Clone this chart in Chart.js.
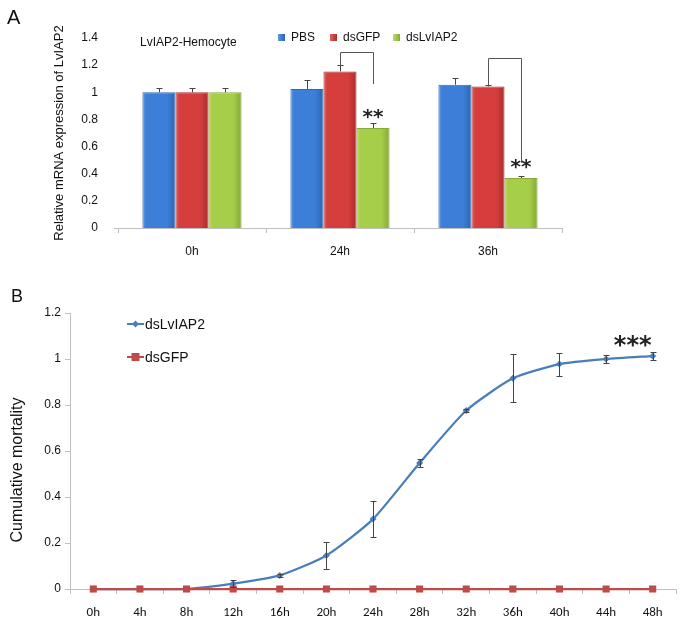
<!DOCTYPE html>
<html><head><meta charset="utf-8">
<script src="https://cdn.jsdelivr.net/npm/chart.js@4.4.1/dist/chart.umd.min.js"></script>
<style>
html,body{margin:0;padding:0;background:#fff;}
#wrap{position:relative;width:683px;height:620px;overflow:hidden;background:#fff;}
#ca{position:absolute;left:0;top:0;}
#cb{position:absolute;left:0;top:270px;}
</style></head><body>
<div id="wrap"><canvas id="ca" width="683" height="262"></canvas><canvas id="cb" width="683" height="350"></canvas></div>
<script>
// ---------- Panel A data ----------
const groupsA = ['0h', '24h', '36h'];
const pbsA = [1.00, 1.024, 1.056];
const pbsErrA = [0.032, 0.069, 0.05];
const gfpA = [1.00, 1.154, 1.043];
const gfpErrA = [0.032, 0.044, 0.01];
const iapA = [1.00, 0.737, 0.368];
const iapErrA = [0.032, 0.037, 0.017];
const yTicksA = ['0', '0.2', '0.4', '0.6', '0.8', '1', '1.2', '1.4'];
const sigA = ['', '**', '**'];
const bracketTopA = [null, 1.30, 1.253];
const bracketEndA = [null, 1.061, 0.48];
const seriesNamesA = ['PBS', 'dsGFP', 'dsLvIAP2'];

// ---------- Panel B data ----------
const hoursB = ['0h', '4h', '8h', '12h', '16h', '20h', '24h', '28h', '32h', '36h', '40h', '44h', '48h'];
const iapB = [0, 0, 0, 0.023, 0.059, 0.146, 0.304, 0.548, 0.776, 0.916, 0.978, 1.0, 1.013];
const iapErrB = [0, 0, 0, 0.016, 0.006, 0.06, 0.078, 0.018, 0.008, 0.104, 0.05, 0.016, 0.017];
const gfpB = [0, 0, 0, 0, 0, 0, 0, 0, 0, 0, 0, 0, 0];
const yTicksB = ['0', '0.2', '0.4', '0.6', '0.8', '1', '1.2'];
const seriesNamesB = ['dsLvIAP2', 'dsGFP'];
const sigB = '***';

const AR = "'Liberation Sans', Arial, sans-serif";
const CAL = "Carlito, Lato, 'Liberation Sans', sans-serif";

function barGrad(base, light, dark) {
  return (c) => {
    const el = c.element;
    if (!el || !isFinite(el.x) || !el.width) return base;
    const x0 = el.x - el.width / 2, x1 = el.x + el.width / 2;
    const g = c.chart.ctx.createLinearGradient(x0, 0, x1, 0);
    g.addColorStop(0, light); g.addColorStop(0.12, base);
    g.addColorStop(0.75, base); g.addColorStop(1, dark);
    return g;
  };
}
const colA = [
  { base: '#3b7fd9', light: '#5f97e2', dark: '#2c63ad', border: '#2f67b5' },
  { base: '#d63d3d', light: '#e06262', dark: '#a92e2e', border: '#a83030' },
  { base: '#a6ce48', light: '#bcdc6c', dark: '#85a935', border: '#87aa38' }
];

const pluginA = {
  id: 'extrasA',
  afterDatasetsDraw(chart) {
    const ctx = chart.ctx, ys = chart.scales.y;
    const errs = [pbsErrA, gfpErrA, iapErrA];
    const vals = [pbsA, gfpA, iapA];
    ctx.save();
    ctx.strokeStyle = '#444'; ctx.lineWidth = 1;
    vals.forEach((arr, di) => {
      const meta = chart.getDatasetMeta(di);
      meta.data.forEach((el, i) => {
        const x = Math.round(el.x) + 0.5;
        const y0 = ys.getPixelForValue(arr[i]);
        const y1 = Math.round(ys.getPixelForValue(arr[i] + errs[di][i])) + 0.5;
        ctx.beginPath();
        ctx.moveTo(x, y0); ctx.lineTo(x, y1);
        ctx.moveTo(x - 3, y1); ctx.lineTo(x + 3, y1);
        ctx.stroke();
      });
    });
    // brackets
    const m1 = chart.getDatasetMeta(1), m2 = chart.getDatasetMeta(2);
    ctx.strokeStyle = '#555';
    for (let i = 0; i < groupsA.length; i++) {
      if (bracketTopA[i] == null) continue;
      const xl = Math.round(m1.data[i].x) + 0.5, xr = Math.round(m2.data[i].x) + 0.5;
      const yl = ys.getPixelForValue(gfpA[i] + gfpErrA[i]);
      const yt = Math.round(ys.getPixelForValue(bracketTopA[i])) + 0.5;
      const yr = ys.getPixelForValue(bracketEndA[i]);
      ctx.beginPath();
      ctx.moveTo(xl, yl); ctx.lineTo(xl, yt); ctx.lineTo(xr, yt); ctx.lineTo(xr, yr);
      ctx.stroke();
    }
    // stars
    ctx.fillStyle = '#222';
    ctx.font = "bold 20px 'DejaVu Sans', sans-serif";
    ctx.textAlign = 'center'; ctx.textBaseline = 'middle';
    for (let i = 0; i < groupsA.length; i++) {
      if (!sigA[i]) continue;
      const x = m2.data[i].x;
      const y = ys.getPixelForValue(iapA[i] + 0.105);
      ctx.fillText(sigA[i], x, y + 4);
    }
    // title text inside plot
    ctx.fillStyle = '#111';
    ctx.font = '12px ' + AR;
    ctx.textAlign = 'left';
    ctx.fillText('LvIAP2-Hemocyte', 140, 43);
    // legend
    const lx = [278, 330, 393];
    chart.data.datasets.forEach((ds, di) => {
      const c = colA[di];
      const g = ctx.createLinearGradient(lx[di], 0, lx[di] + 7, 0);
      g.addColorStop(0, c.light); g.addColorStop(1, c.dark);
      ctx.fillStyle = g;
      ctx.fillRect(lx[di], 34, 7, 7);
      ctx.fillStyle = '#111';
      ctx.font = '12px ' + AR;
      ctx.fillText(ds.label, lx[di] + 13, 38);
    });
    // axis stub at zero
    ctx.strokeStyle = '#bfbfbf'; ctx.lineWidth = 1;
    const y0p = Math.round(ys.getPixelForValue(0)) + 0.5;
    ctx.beginPath(); ctx.moveTo(114, y0p); ctx.lineTo(118, y0p); ctx.stroke();
    // panel letter
    ctx.font = '20px ' + AR;
    ctx.fillStyle = '#111';
    ctx.fillText('A', 7, 18);
    ctx.restore();
  }
};

const chartA = new Chart(document.getElementById('ca'), {
  type: 'bar',
  data: {
    labels: groupsA,
    datasets: [pbsA, gfpA, iapA].map((d, i) => ({
      label: seriesNamesA[i],
      data: d,
      backgroundColor: barGrad(colA[i].base, colA[i].light, colA[i].dark),
      borderColor: colA[i].border,
      borderWidth: 1,
      categoryPercentage: 0.67,
      barPercentage: 1.0
    }))
  },
  options: {
    responsive: false,
    animation: false,
    devicePixelRatio: 1,
    layout: { padding: { left: 0, right: 121, top: 38, bottom: 0 } },
    plugins: { legend: { display: false }, tooltip: { enabled: false } },
    scales: {
      x: {
        grid: { display: true, drawOnChartArea: false, drawTicks: true, tickLength: 5, color: '#bfbfbf', offset: true },
        border: { display: true, color: '#bfbfbf' },
        ticks: { color: '#111', font: { family: AR, size: 12 }, padding: 11 },
        afterFit: (s) => { s.height = 34; }
      },
      y: {
        min: 0, max: 1.4,
        grid: { display: false },
        border: { display: false },
        ticks: {
          stepSize: 0.2, color: '#111', font: { family: AR, size: 12 }, padding: 12,
          callback: (v, i) => yTicksA[i]
        },
        title: {
          display: true, text: 'Relative mRNA expression of LvIAP2', color: '#111',
          font: { family: AR, size: 13 }, padding: { top: 52, bottom: 0 }
        },
        afterFit: (s) => { s.width = 118; }
      }
    }
  },
  plugins: [pluginA]
});
chartA.update('none');

// ---------- Panel B ----------
const blueB = '#4a7ebb', redB = '#be4b48';
const pluginB = {
  id: 'extrasB',
  afterDatasetsDraw(chart) {
    const ctx = chart.ctx, ys = chart.scales.y, xs = chart.scales.x;
    ctx.save();
    // error bars for dsLvIAP2
    ctx.strokeStyle = '#444'; ctx.lineWidth = 1;
    const meta = chart.getDatasetMeta(0);
    meta.data.forEach((el, i) => {
      const e = iapErrB[i];
      if (!e) return;
      const x = Math.round(el.x) + 0.5;
      const y0 = Math.round(ys.getPixelForValue(iapB[i] - e)) + 0.5;
      const y1 = Math.round(ys.getPixelForValue(iapB[i] + e)) + 0.5;
      ctx.beginPath();
      ctx.moveTo(x, y0); ctx.lineTo(x, y1);
      ctx.moveTo(x - 3, y0); ctx.lineTo(x + 3, y0);
      ctx.moveTo(x - 3, y1); ctx.lineTo(x + 3, y1);
      ctx.stroke();
    });
    // significance stars
    ctx.fillStyle = '#222';
    ctx.font = "bold 24px 'DejaVu Sans', sans-serif";
    ctx.textAlign = 'center'; ctx.textBaseline = 'middle';
    ctx.fillText(sigB, xs.getPixelForValue(12) - 20, ys.getPixelForValue(1.075) + 5);
    // legend
    ctx.textAlign = 'left';
    const items = [{ y: 54, c: blueB, s: 'diamond' }, { y: 87, c: redB, s: 'square' }];
    items.forEach((it, k) => {
      ctx.strokeStyle = it.c; ctx.lineWidth = 2;
      ctx.beginPath(); ctx.moveTo(127, it.y); ctx.lineTo(144, it.y); ctx.stroke();
      ctx.fillStyle = it.c;
      if (it.s === 'square') ctx.fillRect(131.5, it.y - 4, 8, 8);
      else {
        ctx.beginPath(); ctx.moveTo(135.5, it.y - 3.5); ctx.lineTo(139, it.y); ctx.lineTo(135.5, it.y + 3.5); ctx.lineTo(132, it.y); ctx.closePath(); ctx.fill();
      }
      ctx.fillStyle = '#111';
      ctx.font = '14px ' + AR;
      ctx.fillText(seriesNamesB[k], 145, it.y + 1);
    });
    // y title
    ctx.save();
    ctx.translate(18, 200);
    ctx.rotate(-Math.PI / 2);
    ctx.textAlign = 'center';
    ctx.font = '16px ' + AR;
    ctx.fillStyle = '#111';
    ctx.fillText('Cumulative mortality', 0, 0);
    ctx.restore();
    // panel letter
    ctx.font = '18px ' + AR;
    ctx.fillStyle = '#111';
    ctx.fillText('B', 11, 27);
    ctx.restore();
  }
};

new Chart(document.getElementById('cb'), {
  type: 'line',
  data: {
    labels: hoursB,
    datasets: [
      {
        label: seriesNamesB[0], data: iapB, borderColor: blueB, backgroundColor: blueB,
        borderWidth: 2.25, tension: 0.2, pointStyle: 'rectRot', pointRadius: 3.5,
        pointBorderWidth: 0, order: 1, fill: false, clip: false
      },
      {
        label: seriesNamesB[1], data: gfpB, borderColor: redB, backgroundColor: redB,
        borderWidth: 2.25, tension: 0, pointStyle: 'rect', pointRadius: 5,
        pointBorderWidth: 0, order: 0, fill: false, clip: false
      }
    ]
  },
  options: {
    responsive: false,
    animation: false,
    devicePixelRatio: 1,
    layout: { padding: { left: 0, right: 7, top: 43, bottom: 0 } },
    plugins: { legend: { display: false }, tooltip: { enabled: false } },
    scales: {
      x: {
        offset: true,
        grid: { display: true, drawOnChartArea: false, drawTicks: true, tickLength: 5, color: '#bfbfbf', offset: true },
        border: { display: true, color: '#bfbfbf' },
        ticks: { color: '#111', font: { family: CAL, size: 13 }, padding: 11, maxRotation: 0, autoSkip: false },
        afterFit: (s) => { s.height = 31; }
      },
      y: {
        min: 0, max: 1.2,
        grid: { display: true, drawOnChartArea: false, drawTicks: true, tickLength: 5, color: '#bfbfbf' },
        border: { display: true, color: '#bfbfbf' },
        ticks: {
          stepSize: 0.2, color: '#111', font: { family: AR, size: 12 }, padding: 4,
          callback: (v, i) => yTicksB[i]
        },
        afterFit: (s) => { s.width = 70; }
      }
    }
  },
  plugins: [pluginB]
});
</script>
</body></html>
